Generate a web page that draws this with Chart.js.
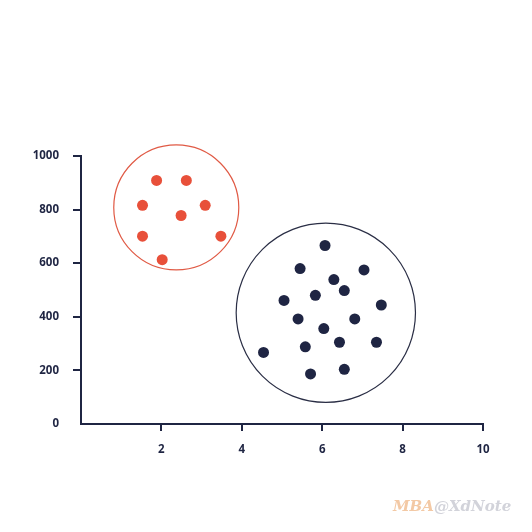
<!DOCTYPE html>
<html>
<head>
<meta charset="utf-8">
<script src="https://cdn.jsdelivr.net/npm/chart.js@4/dist/chart.umd.min.js"></script>
<style>
  body { margin: 0; background: #fff; }
  #wrap { position: relative; width: 532px; height: 532px; }
  #mark { position: absolute; left: 393px; top: 497px; font: italic bold 15px "DejaVu Serif", "Liberation Serif", serif; color: #d2d3da; }
  #mark span { color: #f3c9a5; }
</style>
</head>
<body>
<div id="wrap">
  <canvas id="chart" width="532" height="532"></canvas>
  <div id="mark"><span>MBA</span>@XdNote</div>
</div>
<script>
// cluster A (red)
const redX = [1.88, 2.62, 1.53, 3.09, 2.49, 1.53, 3.48, 2.02];
const redY = [909, 909, 816, 816, 778, 701, 701, 613];

// cluster B (navy)
const navyX = [6.07, 5.45, 7.04, 6.29, 6.55, 5.83, 5.05, 7.47, 5.40, 6.81, 6.04, 6.43, 7.35, 5.58, 4.54, 5.71, 6.55];
const navyY = [666, 580, 575, 539, 498, 480, 461, 444, 392, 392, 356, 305, 305, 288, 267, 187, 204];

// cluster outlines: centre (x, y) and radius in x units
const ringX = [2.37, 6.09];
const ringY = [808, 415];
const ringR = [1.555, 2.23];

const xTicks = [0, 2, 4, 6, 8, 10];
const yTicks = [0, 200, 400, 600, 800, 1000];

const navy = '#1f2543';
const red = '#e8503a';
const ringColors = ['#e05a45', '#2a2e45'];

const pts = (xs, ys) => xs.map((x, i) => ({ x: x, y: ys[i] }));

const ringPlugin = {
  id: 'rings',
  beforeDatasetsDraw(chart) {
    const ctx = chart.ctx;
    const xs = chart.scales.x, ys = chart.scales.y;
    ctx.save();
    ringX.forEach((cx, i) => {
      const px = xs.getPixelForValue(cx);
      const py = ys.getPixelForValue(ringY[i]);
      const r = xs.getPixelForValue(cx + ringR[i]) - px;
      ctx.beginPath();
      ctx.arc(px, py, r, 0, Math.PI * 2);
      ctx.strokeStyle = ringColors[i];
      ctx.lineWidth = 1.2;
      ctx.stroke();
    });
    ctx.restore();
  }
};

const tickFont = { family: '"Open Sans", Lato, sans-serif', size: 11.5, weight: 'bold' };
const noZero = c => (c.tick && c.tick.value === 0) ? 'rgba(0,0,0,0)' : navy;

new Chart(document.getElementById('chart'), {
  type: 'scatter',
  data: {
    datasets: [
      { data: pts(redX, redY), backgroundColor: red, borderWidth: 0, pointRadius: 5.5 },
      { data: pts(navyX, navyY), backgroundColor: navy, borderWidth: 0, pointRadius: 5.5 }
    ]
  },
  options: {
    responsive: false,
    animation: false,
    layout: { padding: { top: 156, right: 49, bottom: 48, left: 0 } },
    plugins: { legend: { display: false }, tooltip: { enabled: false } },
    scales: {
      x: {
        min: 0, max: 10,
        afterBuildTicks: s => { s.ticks = xTicks.map(v => ({ value: v })); },
        afterFit: s => { s.height = 60; },
        border: { color: navy, width: 2 },
        grid: { drawOnChartArea: false, tickLength: 7, lineWidth: 2, tickColor: noZero },
        ticks: { color: navy, font: tickFont, padding: 12, maxRotation: 0,
          callback: v => v === 0 ? '' : String(v) }
      },
      y: {
        min: 0, max: 1000,
        afterBuildTicks: s => { s.ticks = yTicks.map(v => ({ value: v })); },
        afterFit: s => { s.width = 81; },
        border: { color: navy, width: 2 },
        grid: { drawOnChartArea: false, tickLength: 8, lineWidth: 2, tickColor: noZero },
        ticks: { color: navy, font: tickFont, padding: 14, callback: v => String(v) }
      }
    }
  },
  plugins: [ringPlugin]
});
</script>
</body>
</html>
